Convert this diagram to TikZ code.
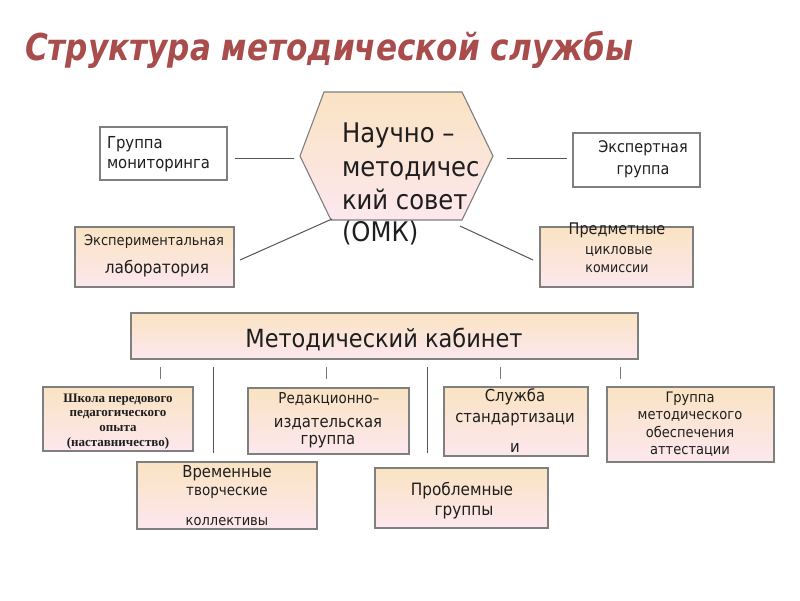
\documentclass[tikz,border=0pt]{standalone}
\usepackage{fontspec}
\setmainfont{DejaVu Sans Condensed}
\newfontfamily\bodyf{DejaVu Sans Condensed}
\newfontfamily\titlef{DejaVu Sans Condensed}
\newfontfamily\serf{Liberation Serif}
\definecolor{pkTop}{HTML}{FAE3C2}
\definecolor{pkBot}{HTML}{FCE7EE}
\definecolor{boxgray}{HTML}{7F7F7F}
\definecolor{lineC}{HTML}{555555}
\definecolor{tickC}{HTML}{777777}
\definecolor{titleC}{HTML}{A84C4C}
\definecolor{txtC}{HTML}{1E1E1E}
\newcommand\fs[1]{\fontsize{#1}{#1}\selectfont}
\tikzset{
  x=1pt, y=-1pt,
  gbox/.style={draw=boxgray, line width=1.1pt, top color=pkTop, bottom color=pkBot, inner sep=0pt, outer sep=0pt},
  wbox/.style={draw=boxgray, line width=1.1pt, fill=white, inner sep=0pt, outer sep=0pt},
  conn/.style={draw=lineC, line width=1pt},
  tickln/.style={draw=tickC, line width=0.9pt},
  txt/.style={anchor=base, inner sep=0pt, outer sep=0pt, text=txtC},
  txtw/.style={anchor=base west, inner sep=0pt, outer sep=0pt, text=txtC}
}
\newcommand\boxat[6]{\node[#1, minimum width=#4pt, minimum height=#5pt] (#6) at (#2,#3) {};}
\begin{document}
\begin{tikzpicture}
\useasboundingbox[fill=white] (0,0) rectangle (800,600);

% title
\node[txtw, text=titleC, font=\titlef\bfseries\itshape\fs{37}, xscale=0.935, transform shape] (title) at (25,60) {Структура методической службы};

% hexagon council
\path[draw=boxgray, line width=1.1pt, top color=pkTop, bottom color=pkBot]
  (300,156) -- (324,92) -- (462,92) -- (493,156) -- (462,220) -- (331,220) -- cycle;
\coordinate (council) at (396,156);
\node[txtw, font=\bodyf\fs{27}] (c1) at (342,142) {Научно –};
\node[txtw, font=\bodyf\fs{27}] (c2) at (342,176) {методичес};
\node[txtw, font=\bodyf\fs{27}] (c3) at (342,209) {кий совет};
\node[txtw, font=\bodyf\fs{27}] (c4) at (342,241) {(ОМК)};

% top side boxes
\boxat{wbox}{163.5}{153.5}{127}{53}{monit}
\node[txtw, font=\bodyf\fs{16.5}] (m1) at (107,148) {Группа};
\node[txtw, font=\bodyf\fs{16.5}] (m2) at (107,168) {мониторинга};

\boxat{wbox}{636.5}{160}{127}{54}{expert}
\node[txt, font=\bodyf\fs{16}] (e1) at (643,152) {Экспертная};
\node[txt, font=\bodyf\fs{16}] (e2) at (643,174) {группа};

\boxat{gbox}{154.5}{257}{159}{60}{lab}
\node[txt, font=\bodyf\fs{14.5}] (l1) at (154,245) {Экспериментальная};
\node[txt, font=\bodyf\fs{17}] (l2) at (157,273) {лаборатория};

\boxat{gbox}{616.5}{257}{153}{60}{subj}
\node[txt, font=\bodyf\fs{16}] (p1) at (617,234) {Предметные};
\node[txt, font=\bodyf\fs{14.5}] (p2) at (619,254) {цикловые};
\node[txt, font=\bodyf\fs{14}] (p3) at (617,272) {комиссии};

% connectors around council
\coordinate (lA) at (235,158); \coordinate (lB) at (294,158);
\coordinate (rA) at (507,158); \coordinate (rB) at (567,158);
\coordinate (dlA) at (240,260); \coordinate (dlB) at (332,219);
\coordinate (drA) at (460,226); \coordinate (drB) at (533,260);
\draw[conn] (lA) -- (lB);
\draw[conn] (rA) -- (rB);
\draw[conn] (dlA) -- (dlB);
\draw[conn] (drA) -- (drB);

% cabinet
\boxat{gbox}{384.5}{336}{507}{46}{cab}
\node[txt, font=\bodyf\fs{25}] (cabt) at (384,347) {Методический кабинет};

% ticks and lines under cabinet
\foreach \xx/\nm in {160/ta, 326/tb, 500/tc, 620/td} {
  \coordinate (\nm1) at (\xx,367); \coordinate (\nm2) at (\xx,379);
  \draw[tickln] (\nm1) -- (\nm2);
}
\foreach \xx/\nm in {213/va, 427/vb} {
  \coordinate (\nm1) at (\xx,367); \coordinate (\nm2) at (\xx,453);
  \draw[conn] (\nm1) -- (\nm2);
}

% bottom boxes
\boxat{gbox}{118}{419}{150}{64}{school}
\node[txt, font=\serf\bfseries\fs{13}] (s1) at (118,402) {Школа передового};
\node[txt, font=\serf\bfseries\fs{13}] (s2) at (118,416) {педагогического};
\node[txt, font=\serf\bfseries\fs{13}] (s3) at (118,431) {опыта};
\node[txt, font=\serf\bfseries\fs{13}] (s4) at (118,446) {(наставничество)};

\boxat{gbox}{328.5}{421}{161}{66}{edit}
\node[txt, font=\bodyf\fs{15}] (r1) at (329,403) {Редакционно–};
\node[txt, font=\bodyf\fs{16.5}] (r2) at (328,427) {издательская};
\node[txt, font=\bodyf\fs{16.5}] (r3) at (328,444) {группа};

\boxat{gbox}{516}{421.5}{144}{69}{std}
\node[txt, font=\bodyf\fs{16.5}] (d1) at (515,401) {Служба};
\node[txt, font=\bodyf\fs{16.5}] (d2) at (515,422) {стандартизаци};
\node[txt, font=\bodyf\fs{16.5}] (d3) at (515,452) {и};

\boxat{gbox}{690.5}{424.5}{167}{75}{attest}
\node[txt, font=\bodyf\fs{14.5}] (g1) at (690,402) {Группа};
\node[txt, font=\bodyf\fs{14.5}] (g2) at (690,419) {методического};
\node[txt, font=\bodyf\fs{14.5}] (g3) at (690,437) {обеспечения};
\node[txt, font=\bodyf\fs{14.5}] (g4) at (690,454) {аттестации};

\boxat{gbox}{227}{495.5}{180}{67}{temp}
\node[txt, font=\bodyf\fs{16.5}] (w1) at (227,477) {Временные};
\node[txt, font=\bodyf\fs{15}] (w2) at (227,495) {творческие};
\node[txt, font=\bodyf\fs{14.5}] (w3) at (227,525) {коллективы};

\boxat{gbox}{461.5}{498}{173}{60}{prob}
\node[txt, font=\bodyf\fs{17}] (q1) at (462,495) {Проблемные};
\node[txt, font=\bodyf\fs{17}] (q2) at (464,515) {группы};
\end{tikzpicture}
\end{document}
